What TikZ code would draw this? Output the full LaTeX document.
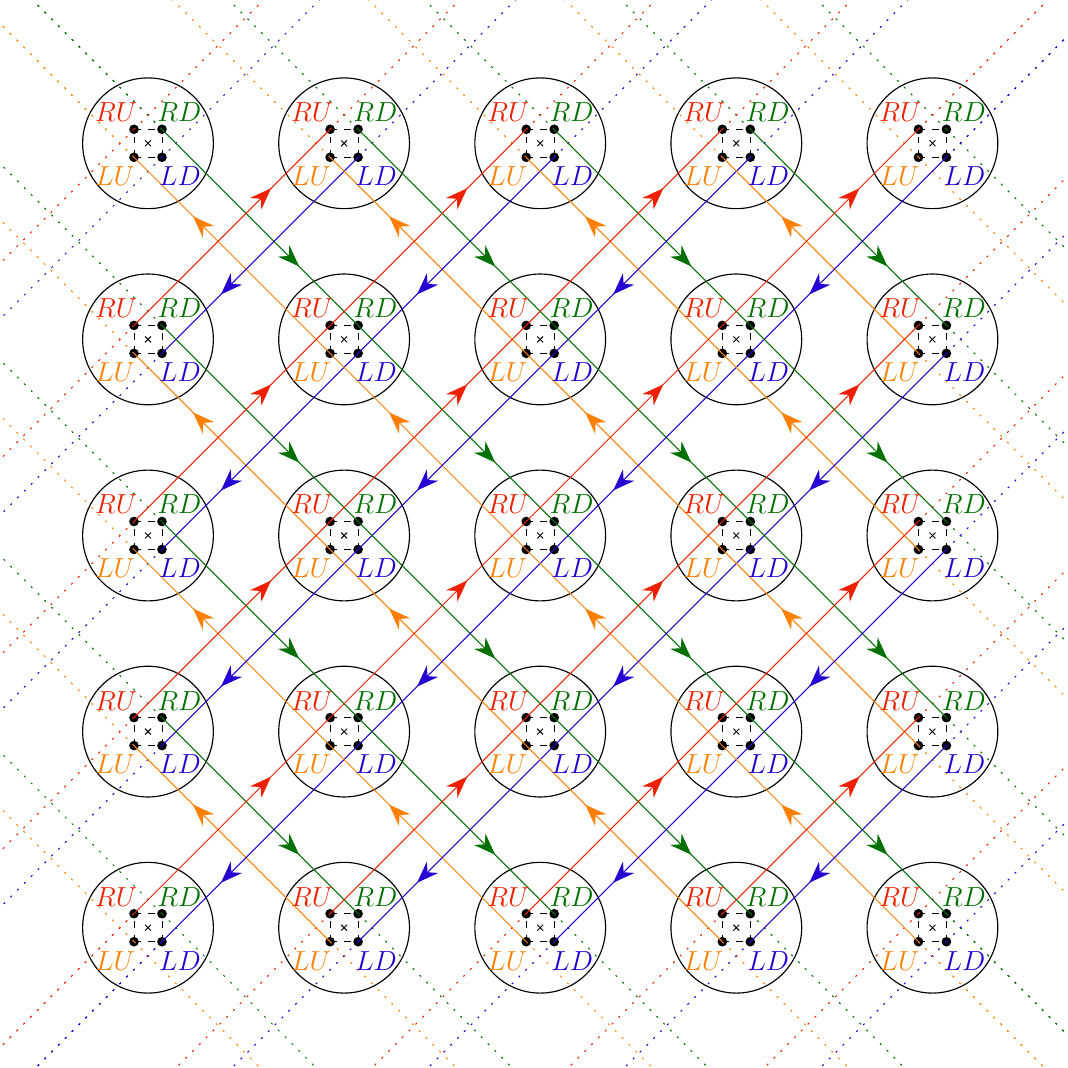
\documentclass[tikz,border=0pt]{standalone}
\usetikzlibrary{arrows.meta,decorations.markings}
\definecolor{cRU}{RGB}{238,32,0}
\definecolor{cRD}{RGB}{0,112,0}
\definecolor{cLU}{RGB}{255,128,0}
\definecolor{cLD}{RGB}{36,0,210}
\begin{document}
\begin{tikzpicture}[
  cellcircle/.style={draw, circle, line width=0.5pt, minimum size=2cm, inner sep=0pt},
  qdot/.style={circle, fill=black, inner sep=0pt, minimum size=4.2pt},
  lbl/.style={font=\large, inner sep=0pt},
  sqedge/.style={dashed, line width=0.4pt, -{To[length=1.6pt,width=2.4pt]}},
  link/.style={line width=0.45pt, postaction={decorate}, decoration={markings, mark=at position 0.7 with {\arrow{Stealth[length=9.5pt,width=7pt]}}}},
  ext/.style={line width=0.45pt, dash pattern=on 0.9pt off 3.3pt},
]
\useasboundingbox (-2.264,-14.146) rectangle (14.074,2.192);
\clip (-2.264,-14.146) rectangle (14.074,2.192);
% cells
\foreach \i in {0,...,4}{
  \foreach \j in {0,...,4}{
    \node[cellcircle] (C-\i-\j) at (3*\i,-3*\j) {};
    \coordinate (RU-\i-\j) at (3*\i-0.214,-3*\j+0.214);
    \coordinate (RD-\i-\j) at (3*\i+0.214,-3*\j+0.214);
    \coordinate (LU-\i-\j) at (3*\i-0.214,-3*\j-0.214);
    \coordinate (LD-\i-\j) at (3*\i+0.214,-3*\j-0.214);
    \draw[sqedge] (RU-\i-\j) -- (RD-\i-\j);
    \draw[sqedge] (LU-\i-\j) -- (LD-\i-\j);
    \draw[sqedge] (LU-\i-\j) -- (RU-\i-\j);
    \draw[sqedge] (LD-\i-\j) -- (RD-\i-\j);
    \draw[line width=0.4pt] ([shift={(-0.045,-0.045)}]C-\i-\j.center) -- ([shift={(0.045,0.045)}]C-\i-\j.center);
    \draw[line width=0.4pt] ([shift={(-0.045,0.045)}]C-\i-\j.center) -- ([shift={(0.045,-0.045)}]C-\i-\j.center);
    \node[qdot] (dRU-\i-\j) at (RU-\i-\j) {};
    \node[qdot] (dRD-\i-\j) at (RD-\i-\j) {};
    \node[qdot] (dLU-\i-\j) at (LU-\i-\j) {};
    \node[qdot] (dLD-\i-\j) at (LD-\i-\j) {};
  }
}
% dotted extensions
\foreach \k in {0,...,4}{
  \foreach \a/\b in {\k/0, 0/\k}{
    \draw[ext,cRD] (RD-\a-\b) -- ++(-3,3);
    \draw[ext,cLU] (LU-\a-\b) -- ++(-3,3);
  }
  \foreach \a/\b in {\k/4, 4/\k}{
    \draw[ext,cRD] (RD-\a-\b) -- ++(3,-3);
    \draw[ext,cLU] (LU-\a-\b) -- ++(3,-3);
  }
  \foreach \a/\b in {\k/0, 4/\k}{
    \draw[ext,cRU] (RU-\a-\b) -- ++(3,3);
    \draw[ext,cLD] (LD-\a-\b) -- ++(3,3);
  }
  \foreach \a/\b in {0/\k, \k/4}{
    \draw[ext,cRU] (RU-\a-\b) -- ++(-3,-3);
    \draw[ext,cLD] (LD-\a-\b) -- ++(-3,-3);
  }
}
% solid links
\foreach \i [evaluate=\i as \ip using int(\i+1)] in {0,...,3}{
  \foreach \j [evaluate=\j as \jp using int(\j+1)] in {0,...,3}{
    \draw[link,cRD] (RD-\i-\j) -- (RD-\ip-\jp);
    \draw[link,cLU] (LU-\ip-\jp) -- (LU-\i-\j);
    \draw[link,cRU] (RU-\i-\jp) -- (RU-\ip-\j);
    \draw[link,cLD] (LD-\ip-\j) -- (LD-\i-\jp);
  }
}
% labels
\foreach \i in {0,...,4}{
  \foreach \j in {0,...,4}{
    \node[lbl,text=cRU] (tRU-\i-\j) at ([shift={(-0.275,0.26)}]RU-\i-\j) {$RU$};
    \node[lbl,text=cRD] (tRD-\i-\j) at ([shift={(0.265,0.26)}]RD-\i-\j) {$RD$};
    \node[lbl,text=cLU] (tLU-\i-\j) at ([shift={(-0.29,-0.29)}]LU-\i-\j) {$LU$};
    \node[lbl,text=cLD] (tLD-\i-\j) at ([shift={(0.275,-0.29)}]LD-\i-\j) {$LD$};
  }
}
\end{tikzpicture}
\end{document}
